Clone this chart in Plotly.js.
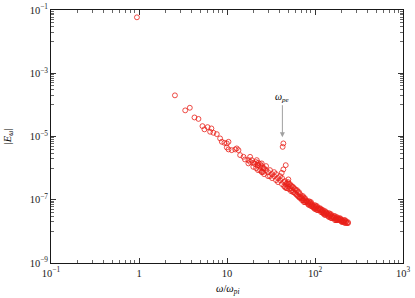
<!DOCTYPE html>
<html><head><meta charset="utf-8">
<script src="https://cdn.plot.ly/plotly-3.0.1.min.js"></script>
<style>html,body{margin:0;padding:0;background:#fff;}</style>
</head><body>
<div id="chart" style="width:415px;height:298px;"></div>
<script>
// Frequency (omega / omega_pi) and spectral amplitude |E_omega|
const omega = [
  0.947, 2.56, 3.35, 3.78, 4.27, 4.74, 5.26, 6.02, 6.65, 5.54, 6.43, 7.01, 7.66,
  8.35, 8.73, 9.34, 9.95, 10.4, 9.95, 10.4, 11.3, 12.4, 12.9, 13.5, 14.1, 15.4,
  16.0, 17.5, 18.3, 19.9, 20.8, 22.4, 23.8, 25.9, 24.8, 18.3, 19.1, 21.8, 22.7,
  24.8, 25.9, 19.9, 17.5,
  43.7, 42.9, 46.5, 43.7, 41.9, 49.8,
  21.4, 21.4, 22.5, 22.5, 23.8, 23.8, 25.0, 25.0, 26.4, 26.4, 27.8, 27.8,
  29.3, 29.3, 30.8, 30.8, 32.5, 32.5, 34.3, 34.3, 36.1, 36.1, 38.0, 38.0,
  40.1, 40.1, 42.2, 42.2, 44.5, 44.5, 46.9, 46.9, 49.4, 49.4, 52.0, 52.0,
  54.8, 54.8, 57.8, 57.8, 60.8, 60.8, 64.1, 64.1, 67.6, 67.6, 69.4,
  71.2, 71.2, 75.0, 75.0, 79.1, 79.1, 81.2, 83.3, 83.3, 87.8, 87.8,
  92.5, 92.5, 94.9, 97.5, 97.5, 102.6, 102.6, 108.1, 108.1, 111,
  114.0, 114.0, 120.2, 120.2, 126.5, 126.5, 133.4, 133.4, 136.9,
  140.6, 140.6, 148.2, 148.2, 156.0, 156.0, 160.2, 164.4, 164.4,
  173.4, 173.4, 182.4, 182.4, 187.4, 192.3, 192.3, 202.8, 202.8, 208,
  213.8, 213.8, 224.9, 231, 237.1,
  45.7, 45.7, 48.1, 48.1, 50.7, 50.7, 53.4, 53.4, 56.3, 56.3, 59.3, 59.3,
  62.5, 62.5, 65.8, 65.8, 73.1, 73.1, 76.9, 76.9, 85.5, 85.5, 90.1, 90.1,
  100, 100, 105.4, 105.4, 117.0, 117.0, 123.3, 123.3, 130.0, 130.0,
  144.3, 144.3, 152.1, 152.1, 168.7, 168.7, 177.8, 177.8, 197.6, 197.6, 219.3, 219.3,
  67.6, 71.2, 75.0, 79.1, 83.3, 87.8, 92.5, 97.5, 102.6, 108.1, 114.0, 120.2,
  126.5, 133.4, 140.6, 148.2, 156.0, 164.4, 173.4, 182.4, 192.3, 202.8, 213.8, 224.9, 237.1
];
const amplitude = [
  0.0587, 2.0e-4, 6.7e-5, 8.1e-5, 4.0e-5, 3.6e-5, 2.13e-5, 1.98e-5, 1.80e-5, 1.68e-5, 1.41e-5, 1.31e-5, 1.19e-5,
  8.7e-6, 6.8e-6, 6.3e-6, 6.05e-6, 6.8e-6, 4.5e-6, 3.9e-6, 3.7e-6, 3.9e-6, 4.2e-6, 3.7e-6, 2.58e-6, 2.28e-6,
  1.88e-6, 1.79e-6, 1.58e-6, 1.47e-6, 1.34e-6, 1.24e-6, 1.10e-6, 9.8e-7, 7.6e-7, 2.28e-6, 1.79e-6, 1.79e-6, 1.47e-6,
  1.41e-6, 7.6e-7, 1.10e-6, 1.41e-6,
  6.05e-6, 4.7e-6, 1.24e-6, 9.1e-7, 7.1e-7, 4.4e-7,
  1.55e-6, 1.0e-6, 1.24e-6, 8.65e-7, 1.34e-6, 8.65e-7, 1.16e-6, 7.47e-7, 1.0e-6, 6.46e-7, 8.65e-7, 1.16e-6,
  7.47e-7, 5.58e-7, 8.65e-7, 5.58e-7, 6.46e-7, 4.83e-7, 5.58e-7, 7.47e-7, 4.17e-7, 6.46e-7, 4.83e-7, 3.61e-7,
  4.17e-7, 5.58e-7, 3.12e-7, 4.83e-7, 3.61e-7, 2.69e-7, 3.12e-7, 2.33e-7, 2.69e-7, 3.61e-7, 2.33e-7, 3.12e-7,
  2.01e-7, 2.69e-7, 1.74e-7, 2.33e-7, 2.01e-7, 1.50e-7, 1.74e-7, 1.30e-7, 1.50e-7, 1.12e-7, 1.21e-7,
  1.30e-7, 9.7e-8, 1.12e-7, 8.4e-8, 9.7e-8, 8.4e-8, 9.0e-8, 8.4e-8, 7.26e-8, 7.26e-8, 8.4e-8,
  6.27e-8, 7.26e-8, 5.83e-8, 6.27e-8, 5.42e-8, 5.42e-8, 6.27e-8, 5.42e-8, 4.69e-8, 5.04e-8,
  4.69e-8, 5.42e-8, 4.69e-8, 4.05e-8, 4.05e-8, 3.50e-8, 4.05e-8, 3.50e-8, 3.77e-8,
  3.50e-8, 3.03e-8, 3.50e-8, 3.03e-8, 3.03e-8, 2.62e-8, 2.81e-8, 3.03e-8, 2.62e-8,
  2.62e-8, 2.26e-8, 2.62e-8, 2.26e-8, 2.43e-8, 2.26e-8, 2.62e-8, 2.26e-8, 1.95e-8, 2.10e-8,
  1.95e-8, 2.26e-8, 1.95e-8, 1.82e-8, 1.95e-8,
  3.88e-7, 2.51e-7, 3.35e-7, 2.33e-7, 3.12e-7, 2.16e-7, 2.69e-7, 1.87e-7, 2.51e-7, 1.74e-7, 2.16e-7, 1.62e-7,
  2.01e-7, 1.40e-7, 1.74e-7, 1.21e-7, 1.30e-7, 9.7e-8, 1.12e-7, 8.4e-8, 9.0e-8, 6.75e-8, 8.4e-8, 6.27e-8,
  6.75e-8, 5.04e-8, 6.27e-8, 4.69e-8, 5.04e-8, 4.05e-8, 4.69e-8, 3.77e-8, 4.36e-8, 3.26e-8,
  3.77e-8, 2.81e-8, 3.50e-8, 2.62e-8, 3.03e-8, 2.26e-8, 2.81e-8, 2.26e-8, 2.43e-8, 2.10e-8, 2.26e-8, 1.82e-8,
  1.21e-7, 1.12e-7, 9.7e-8, 9.0e-8, 7.8e-8, 7.8e-8, 6.75e-8, 5.83e-8, 5.83e-8, 5.04e-8, 5.04e-8, 4.36e-8,
  3.77e-8, 3.77e-8, 3.26e-8, 3.26e-8, 2.81e-8, 2.81e-8, 2.43e-8, 2.43e-8, 2.43e-8, 2.10e-8, 2.10e-8, 2.10e-8, 1.82e-8
];

const xTickVals = [0.1, 1, 10, 100, 1000];
const xTickText = ['10<sup>−1</sup>', '1', '10', '10<sup>2</sup>', '10<sup>3</sup>'];
const xMinorVals = [0.2,0.3,0.4,0.5,0.6,0.7,0.8,0.9, 2,3,4,5,6,7,8,9, 20,30,40,50,60,70,80,90, 200,300,400,500,600,700,800,900];
const yTickVals = [1e-9, 1e-7, 1e-5, 1e-3, 1e-1];
const yTickText = ['10<sup>−9</sup>', '10<sup>−7</sup>', '10<sup>−5</sup>', '10<sup>−3</sup>', '10<sup>−1</sup>'];
const yMinorVals = [
  1e-8,2e-8,3e-8,4e-8,5e-8,6e-8,7e-8,8e-8,9e-8,
  1e-6,2e-6,3e-6,4e-6,5e-6,6e-6,7e-6,8e-6,9e-6,
  1e-4,2e-4,3e-4,4e-4,5e-4,6e-4,7e-4,8e-4,9e-4,
  1e-2,2e-2,3e-2,4e-2,5e-2,6e-2,7e-2,8e-2,9e-2
];
const omegaPe = 42.6;      // marked plasma frequency
const arrowTipE = 9.5e-6;  // arrow tip level

const FONT = 'Liberation Serif, DejaVu Serif, serif';

const trace = {
  x: omega, y: amplitude, type: 'scatter', mode: 'markers',
  marker: {symbol: 'circle-open', size: 4.9, color: 'rgb(232,32,24)', line: {width: 0.8, color: 'rgb(232,32,24)'}},
  hoverinfo: 'x+y'
};

const axisCommon = {
  type: 'log', showgrid: false, zeroline: false,
  showline: true, linecolor: '#000', linewidth: 0.9, mirror: 'allticks',
  ticks: 'inside', ticklen: 5, tickwidth: 0.8, tickcolor: '#000',
  tickmode: 'array',
  tickfont: {family: FONT, size: 10.5, color: '#222'}
};

const layout = {
  width: 415, height: 298,
  margin: {l: 51, r: 12, t: 10, b: 35},
  paper_bgcolor: '#fff', plot_bgcolor: '#fff',
  showlegend: false,
  font: {family: FONT, color: '#000'},
  xaxis: Object.assign({}, axisCommon, {
    range: [-1, 3], tickvals: xTickVals, ticktext: xTickText,
    minor: {tickmode: 'array', tickvals: xMinorVals, ticks: 'inside', ticklen: 2.8, tickwidth: 0.6, tickcolor: '#000', showgrid: false}
  }),
  yaxis: Object.assign({}, axisCommon, {
    range: [-9, -1], tickvals: yTickVals, ticktext: yTickText,
    minor: {tickmode: 'array', tickvals: yMinorVals, ticks: 'inside', ticklen: 2.8, tickwidth: 0.6, tickcolor: '#000', showgrid: false}
  }),
  annotations: [
    {
      x: Math.log10(omegaPe), y: Math.log10(arrowTipE), xref: 'x', yref: 'y',
      text: '<i>ω</i><sub><i>pe</i></sub>', showarrow: true,
      ax: 0, ay: -40, arrowcolor: '#a0a0a0', arrowwidth: 1, arrowhead: 2, arrowsize: 1,
      font: {family: FONT, size: 10, color: '#000'}
    },
    {
      x: 0.5, y: -0.105, xref: 'paper', yref: 'paper', showarrow: false,
      text: '<i>ω</i>/<i>ω</i><sub><i>pi</i></sub>', xanchor: 'center', yanchor: 'middle',
      font: {family: FONT, size: 10.5, color: '#000'}
    },
    {
      x: -0.12, y: 0.5, xref: 'paper', yref: 'paper', showarrow: false,
      text: '|<i>E</i><sub><i>ω</i></sub>|', textangle: -90, xanchor: 'center', yanchor: 'middle',
      font: {family: FONT, size: 10.5, color: '#000'}
    }
  ]
};

Plotly.newPlot('chart', [trace], layout, {displayModeBar: false, staticPlot: true});
</script>
</body></html>
